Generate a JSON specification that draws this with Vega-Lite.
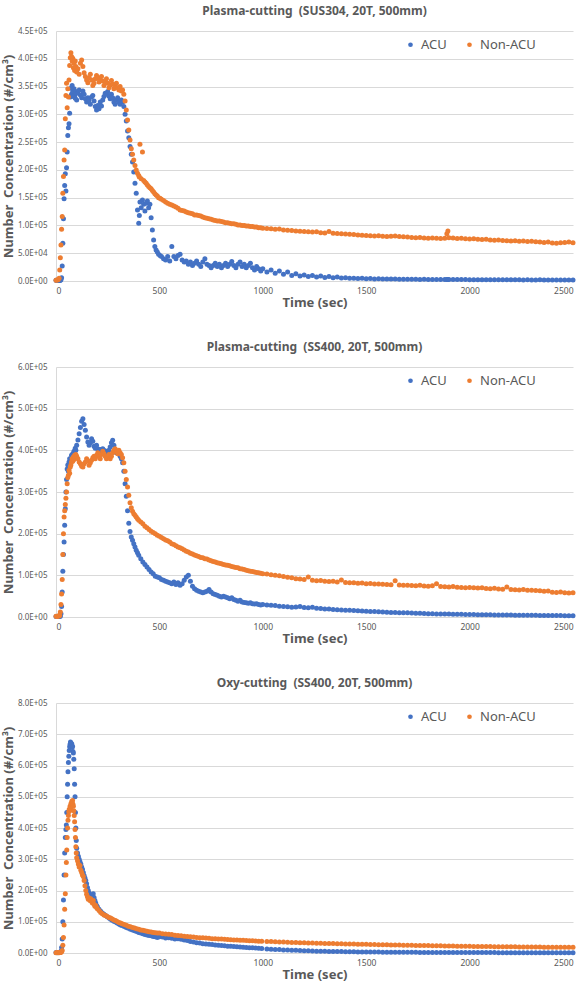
{
"$schema": "https://vega.github.io/schema/vega-lite/v6.json",
"padding": {"left": 2, "top": 5, "right": 4, "bottom": 4},
"background": "white",
"spacing": 31,
"config": {
  "view": {"stroke": null},
  "font": "Noto Sans",
  "title": {"fontSize": 12, "fontWeight": "bold", "color": "#595959", "font": "Noto Sans", "offset": 9},
  "axis": {"labelColor": "#595959", "titleColor": "#595959", "labelFont": "Noto Sans", "titleFont": "Noto Sans", "labelFontSize": 8, "titleFontSize": 13, "titleFontWeight": "bold", "gridColor": "#D9D9D9", "domainColor": "#D9D9D9", "ticks": false},
  "axisY": {"labelPadding": 9, "titlePadding": 2},
  "axisX": {"labelPadding": 5, "titlePadding": 2, "format": "d", "labelFontSize": 8.5},
  "legend": {"labelColor": "#595959", "labelFont": "Noto Sans", "labelFontSize": 13, "symbolType": "circle", "symbolSize": 22, "columnPadding": 16, "padding": 0, "orient": "none", "direction": "horizontal", "legendX": 348, "legendY": 7, "title": null}
},
"resolve": {"scale": {"color": "independent", "y": "independent"}, "legend": {"color": "independent"}},
"vconcat": [
{
  "title": {"text": "Plasma-cutting \u00a0(SUS304, 20T, 500mm)"},
  "width": 517, "height": 250,
  "data": {"name": "p1"},
  "transform": [{"fold": ["a", "n"], "as": ["s", "v"]}],
  "mark": {"type": "circle", "size": 25, "opacity": 1},
  "encoding": {
    "x": {"field": "t", "type": "quantitative", "scale": {"domain": [0, 2500], "nice": false}, "axis": {"values": [0, 500, 1000, 1500, 2000, 2500], "title": "Time (sec)", "grid": false}},
    "y": {"field": "v", "type": "quantitative", "scale": {"domain": [0, 450000], "nice": false}, "axis": {"values": [0, 50000, 100000, 150000, 200000, 250000, 300000, 350000, 400000, 450000], "title": "Number \u00a0Concentration (#/cm³)", "labelExpr": "replace(format(datum.value, '.1e'), 'e+', 'E+0')"}},
    "color": {"field": "s", "type": "nominal", "scale": {"domain": ["a", "n"], "range": ["#4472C4", "#ED7D31"]}, "legend": {"labelExpr": "datum.label == 'a' ? 'ACU' : 'Non-ACU'"}},
    "order": {"field": "s"}
  }
},
{
  "title": {"text": "Plasma-cutting \u00a0(SS400, 20T, 500mm)"},
  "width": 517, "height": 250,
  "data": {"name": "p2"},
  "transform": [{"fold": ["a", "n"], "as": ["s", "v"]}],
  "mark": {"type": "circle", "size": 25, "opacity": 1},
  "encoding": {
    "x": {"field": "t", "type": "quantitative", "scale": {"domain": [0, 2500], "nice": false}, "axis": {"values": [0, 500, 1000, 1500, 2000, 2500], "title": "Time (sec)", "grid": false}},
    "y": {"field": "v", "type": "quantitative", "scale": {"domain": [0, 600000], "nice": false}, "axis": {"values": [0, 100000, 200000, 300000, 400000, 500000, 600000], "title": "Number \u00a0Concentration (#/cm³)", "labelExpr": "replace(format(datum.value, '.1e'), 'e+', 'E+0')"}},
    "color": {"field": "s", "type": "nominal", "scale": {"domain": ["a", "n"], "range": ["#4472C4", "#ED7D31"]}, "legend": {"labelExpr": "datum.label == 'a' ? 'ACU' : 'Non-ACU'"}},
    "order": {"field": "s"}
  }
},
{
  "title": {"text": "Oxy-cutting \u00a0(SS400, 20T, 500mm)"},
  "width": 517, "height": 250,
  "data": {"name": "p3"},
  "transform": [{"fold": ["a", "n"], "as": ["s", "v"]}],
  "mark": {"type": "circle", "size": 25, "opacity": 1},
  "encoding": {
    "x": {"field": "t", "type": "quantitative", "scale": {"domain": [0, 2500], "nice": false}, "axis": {"values": [0, 500, 1000, 1500, 2000, 2500], "title": "Time (sec)", "grid": false}},
    "y": {"field": "v", "type": "quantitative", "scale": {"domain": [0, 800000], "nice": false}, "axis": {"values": [0, 100000, 200000, 300000, 400000, 500000, 600000, 700000, 800000], "title": "Number \u00a0Concentration (#/cm³)", "labelExpr": "replace(format(datum.value, '.1e'), 'e+', 'E+0')"}},
    "color": {"field": "s", "type": "nominal", "scale": {"domain": ["a", "n"], "range": ["#4472C4", "#ED7D31"]}, "legend": {"labelExpr": "datum.label == 'a' ? 'ACU' : 'Non-ACU'"}},
    "order": {"field": "s"}
  }
}
],
"datasets": {
"p1": [
{"t":0,"a":1200,"n":1500},{"t":5,"a":900,"n":1800},{"t":10,"a":1300,"n":2200},{"t":15,"a":1000,"n":5000},{"t":18,"a":1100,"n":20000},{"t":21,"a":1400,"n":42000},{"t":24,"a":2200,"n":65000},{"t":27,"a":6000,"n":93000},{"t":30,"a":27000,"n":116000},{"t":33,"a":68000,"n":158000},{"t":36,"a":112000,"n":188000},{"t":39,"a":148000,"n":218000},{"t":42,"a":172000,"n":236000},{"t":45,"a":193000,"n":292000},{"t":48,"a":162000,"n":334000},{"t":51,"a":204000,"n":356000},{"t":54,"a":232000,"n":312000},{"t":57,"a":262000,"n":346000},{"t":60,"a":276000,"n":331000},{"t":63,"a":283000,"n":362000},{"t":66,"a":302000,"n":388000},{"t":69,"a":331000,"n":402000},{"t":72,"a":347000,"n":411000},{"t":75,"a":336000,"n":404000},{"t":78,"a":352000,"n":396000},{"t":81,"a":341000,"n":401000},{"t":84,"a":332000,"n":384000},{"t":87,"a":346000,"n":392000},{"t":90,"a":334000,"n":379000},{"t":93,"a":329000,"n":396000},{"t":96,"a":341000,"n":386000},{"t":100,"a":326000,"n":376000},
{"t":106,"a":338000,"n":382000},{"t":112,"a":344000,"n":372000},{"t":118,"a":335000,"n":392000},{"t":124,"a":330000,"n":398000},{"t":130,"a":342000,"n":386000},{"t":136,"a":336000,"n":375000},{"t":142,"a":328000,"n":368000},{"t":148,"a":322000,"n":362000},{"t":154,"a":330000,"n":357000},{"t":160,"a":326000,"n":366000},{"t":166,"a":318000,"n":372000},{"t":172,"a":331000,"n":362000},{"t":178,"a":334000,"n":352000},{"t":184,"a":324000,"n":356000},{"t":190,"a":314000,"n":364000},{"t":196,"a":308000,"n":370000},{"t":202,"a":316000,"n":366000},{"t":208,"a":310000,"n":358000},{"t":214,"a":322000,"n":362000},{"t":220,"a":315000,"n":368000},{"t":226,"a":326000,"n":360000},{"t":232,"a":332000,"n":352000},{"t":238,"a":338000,"n":358000},{"t":244,"a":336000,"n":364000},{"t":250,"a":341000,"n":356000},{"t":256,"a":333000,"n":348000},{"t":262,"a":328000,"n":353000},{"t":268,"a":336000,"n":361000},{"t":274,"a":330000,"n":354000},{"t":280,"a":322000,"n":346000},{"t":286,"a":318000,"n":350000},{"t":292,"a":326000,"n":356000},{"t":298,"a":330000,"n":348000},{"t":304,"a":322000,"n":344000},{"t":310,"a":318000,"n":350000},{"t":316,"a":326000,"n":342000},{"t":322,"a":322000,"n":344000},{"t":328,"a":314000,"n":336000},
{"t":334,"a":300000,"n":324000},{"t":340,"a":288000,"n":308000},{"t":346,"a":270000,"n":290000},{"t":352,"a":258000,"n":272000},{"t":358,"a":242000,"n":254000},{"t":364,"a":228000,"n":238000},{"t":370,"a":214000,"n":228000},{"t":376,"a":196000,"n":218000},{"t":382,"a":176000,"n":208000},{"t":388,"a":158000,"n":200000},{"t":394,"a":128000,"n":194000},{"t":400,"a":104000,"n":190000},{"t":403,"a":118000,"n":187000},{"t":406,"a":142000,"n":246000},{"t":412,"a":132000,"n":184000},{"t":418,"a":146000,"n":232000},{"t":424,"a":138000,"n":181000},{"t":430,"a":126000,"n":178000},{"t":436,"a":140000,"n":176000},{"t":442,"a":144000,"n":173000},{"t":448,"a":132000,"n":170000},{"t":454,"a":138000,"n":168000},{"t":460,"a":114000,"n":166000},{"t":466,"a":92000,"n":163000},{"t":472,"a":74000,"n":160000},{"t":478,"a":62000,"n":157000},{"t":484,"a":56000,"n":155000},{"t":490,"a":52000,"n":153000},{"t":496,"a":48000,"n":150000},{"t":503,"a":46000,"n":149000},
{"t":510,"a":44000,"n":147000},{"t":520,"a":40000,"n":145000},{"t":530,"a":38000,"n":142000},{"t":540,"a":44000,"n":140000},{"t":550,"a":36000,"n":138000},{"t":560,"a":62000,"n":137000},{"t":570,"a":44000,"n":135000},{"t":580,"a":40000,"n":133000},{"t":590,"a":46000,"n":131000},{"t":600,"a":48000,"n":128000},{"t":610,"a":38000,"n":127000},{"t":620,"a":34000,"n":126000},{"t":630,"a":36000,"n":124000},{"t":640,"a":30000,"n":123000},{"t":650,"a":34000,"n":122000},{"t":660,"a":28000,"n":121000},{"t":670,"a":32000,"n":119000},{"t":680,"a":36000,"n":119000},{"t":690,"a":30000,"n":118000},{"t":700,"a":26000,"n":117000},{"t":710,"a":34000,"n":115000},{"t":720,"a":40000,"n":114000},{"t":730,"a":30000,"n":113000},{"t":740,"a":28000,"n":112000},{"t":750,"a":24000,"n":111000},{"t":760,"a":28000,"n":110000},{"t":770,"a":32000,"n":109000},{"t":780,"a":26000,"n":108000},{"t":790,"a":30000,"n":108000},{"t":800,"a":24000,"n":107000},{"t":810,"a":28000,"n":106000},{"t":820,"a":32000,"n":105000},{"t":830,"a":26000,"n":105000},{"t":840,"a":30000,"n":104000},{"t":850,"a":35000,"n":103000},{"t":860,"a":28000,"n":103000},{"t":870,"a":24000,"n":102000},{"t":880,"a":30000,"n":101000},{"t":890,"a":34000,"n":101000},{"t":900,"a":26000,"n":100000},{"t":910,"a":30000,"n":100000},{"t":920,"a":24000,"n":99000},{"t":930,"a":28000,"n":99000},{"t":940,"a":32000,"n":98000},{"t":950,"a":24000,"n":98000},{"t":960,"a":20000,"n":97000},{"t":970,"a":26000,"n":97000},{"t":980,"a":22000,"n":96000},{"t":990,"a":18000,"n":96000},{"t":1000,"a":22000,"n":95000},
{"t":1020,"a":16000,"n":94500},{"t":1040,"a":20000,"n":94000},{"t":1060,"a":14000,"n":93000},{"t":1080,"a":18000,"n":93500},{"t":1100,"a":12000,"n":92000},{"t":1120,"a":16000,"n":91500},{"t":1140,"a":10000,"n":91000},{"t":1160,"a":13000,"n":90000},{"t":1180,"a":9000,"n":89500},{"t":1200,"a":11000,"n":89000},{"t":1220,"a":8000,"n":88500},{"t":1240,"a":10000,"n":88000},{"t":1260,"a":7000,"n":88500},{"t":1280,"a":9000,"n":87000},{"t":1300,"a":6500,"n":86500},{"t":1320,"a":8000,"n":89000},{"t":1340,"a":6000,"n":86000},{"t":1360,"a":7000,"n":85500},{"t":1380,"a":5500,"n":85000},{"t":1400,"a":6000,"n":84500},{"t":1420,"a":5000,"n":84000},{"t":1440,"a":5000,"n":83500},{"t":1460,"a":4500,"n":83000},{"t":1480,"a":5000,"n":82500},{"t":1500,"a":4000,"n":82000},{"t":1520,"a":4500,"n":81500},{"t":1540,"a":3800,"n":81000},{"t":1560,"a":4000,"n":81500},{"t":1580,"a":3500,"n":80500},{"t":1600,"a":3600,"n":80000},{"t":1620,"a":3400,"n":80500},{"t":1640,"a":3500,"n":81000},{"t":1660,"a":3200,"n":80000},{"t":1680,"a":3300,"n":79500},{"t":1700,"a":3000,"n":79000},{"t":1720,"a":3200,"n":78500},{"t":1740,"a":3000,"n":78000},{"t":1760,"a":2900,"n":78500},{"t":1780,"a":3000,"n":77500},{"t":1800,"a":2800,"n":77000},{"t":1820,"a":2900,"n":77500},{"t":1840,"a":2700,"n":77000},{"t":1860,"a":2800,"n":76500},{"t":1880,"a":2600,"n":77000},{"t":1890,"a":2650,"n":85000},{"t":1895,"a":2600,"n":90000},{"t":1900,"a":2700,"n":78000},{"t":1920,"a":2600,"n":77500},{"t":1940,"a":2500,"n":76500},{"t":1960,"a":2600,"n":77000},{"t":1980,"a":2500,"n":76000},{"t":2000,"a":2400,"n":75500},{"t":2020,"a":2400,"n":76000},{"t":2040,"a":2300,"n":75000},{"t":2060,"a":2400,"n":74500},{"t":2080,"a":2300,"n":75000},{"t":2100,"a":2200,"n":74000},{"t":2120,"a":2300,"n":73500},{"t":2140,"a":2200,"n":74000},{"t":2160,"a":2200,"n":73000},{"t":2180,"a":2100,"n":72500},{"t":2200,"a":2200,"n":72000},{"t":2220,"a":2100,"n":72500},{"t":2240,"a":2100,"n":71500},{"t":2260,"a":2000,"n":72000},{"t":2280,"a":2100,"n":71000},{"t":2300,"a":2000,"n":71500},{"t":2320,"a":2000,"n":70500},{"t":2340,"a":2100,"n":70000},{"t":2360,"a":2000,"n":69500},{"t":2380,"a":1900,"n":70000},{"t":2400,"a":2000,"n":68500},{"t":2420,"a":1900,"n":68000},{"t":2440,"a":2000,"n":69000},{"t":2460,"a":1900,"n":69500},{"t":2480,"a":2000,"n":70000},{"t":2500,"a":1900,"n":69000}
],
"p2": [
{"t":0,"a":1500,"n":2000},{"t":5,"a":1200,"n":1500},{"t":10,"a":1800,"n":2500},{"t":15,"a":1400,"n":2200},{"t":18,"a":1600,"n":4000},{"t":21,"a":2000,"n":12000},{"t":24,"a":8000,"n":30000},{"t":27,"a":25000,"n":55000},{"t":30,"a":60000,"n":90000},{"t":33,"a":110000,"n":150000},{"t":36,"a":150000,"n":200000},{"t":39,"a":180000,"n":240000},{"t":42,"a":220000,"n":255000},{"t":45,"a":260000,"n":270000},{"t":48,"a":300000,"n":285000},{"t":51,"a":330000,"n":300000},{"t":54,"a":355000,"n":320000},{"t":57,"a":365000,"n":335000},{"t":60,"a":350000,"n":340000},{"t":63,"a":372000,"n":352000},{"t":66,"a":380000,"n":345000},{"t":69,"a":368000,"n":360000},{"t":72,"a":378000,"n":365000},{"t":75,"a":388000,"n":372000},{"t":78,"a":382000,"n":380000},{"t":81,"a":392000,"n":374000},{"t":84,"a":386000,"n":384000},{"t":87,"a":398000,"n":378000},{"t":90,"a":392000,"n":388000},{"t":93,"a":405000,"n":382000},{"t":96,"a":400000,"n":390000},{"t":100,"a":412000,"n":386000},
{"t":106,"a":425000,"n":380000},{"t":112,"a":440000,"n":372000},{"t":118,"a":455000,"n":368000},{"t":124,"a":470000,"n":362000},{"t":130,"a":476000,"n":360000},{"t":136,"a":462000,"n":368000},{"t":142,"a":448000,"n":372000},{"t":148,"a":432000,"n":380000},{"t":154,"a":420000,"n":375000},{"t":160,"a":412000,"n":364000},{"t":166,"a":418000,"n":370000},{"t":172,"a":428000,"n":376000},{"t":178,"a":422000,"n":382000},{"t":184,"a":410000,"n":386000},{"t":190,"a":405000,"n":380000},{"t":196,"a":412000,"n":388000},{"t":202,"a":404000,"n":394000},{"t":208,"a":398000,"n":385000},{"t":214,"a":402000,"n":380000},{"t":220,"a":396000,"n":390000},{"t":226,"a":404000,"n":398000},{"t":232,"a":400000,"n":392000},{"t":238,"a":394000,"n":386000},{"t":244,"a":398000,"n":380000},{"t":250,"a":392000,"n":384000},{"t":256,"a":400000,"n":390000},{"t":262,"a":408000,"n":380000},{"t":268,"a":418000,"n":386000},{"t":274,"a":424000,"n":394000},{"t":280,"a":412000,"n":400000},{"t":286,"a":400000,"n":404000},{"t":292,"a":394000,"n":398000},{"t":298,"a":398000,"n":392000},{"t":304,"a":392000,"n":400000},{"t":310,"a":386000,"n":394000},{"t":316,"a":380000,"n":390000},{"t":322,"a":370000,"n":382000},{"t":328,"a":350000,"n":370000},
{"t":334,"a":320000,"n":350000},{"t":340,"a":290000,"n":330000},{"t":346,"a":255000,"n":312000},{"t":352,"a":225000,"n":292000},{"t":358,"a":205000,"n":274000},{"t":364,"a":192000,"n":262000},{"t":370,"a":184000,"n":254000},{"t":376,"a":176000,"n":248000},{"t":382,"a":168000,"n":244000},{"t":388,"a":160000,"n":240000},{"t":394,"a":154000,"n":236000},{"t":400,"a":148000,"n":232000},{"t":410,"a":140000,"n":228000},{"t":420,"a":132000,"n":224000},{"t":430,"a":126000,"n":218000},{"t":440,"a":120000,"n":214000},{"t":450,"a":114000,"n":210000},{"t":460,"a":108000,"n":206000},{"t":470,"a":104000,"n":203000},{"t":480,"a":98000,"n":200000},{"t":490,"a":96000,"n":196000},
{"t":500,"a":94000,"n":194000},{"t":510,"a":90000,"n":191000},{"t":520,"a":88000,"n":188000},{"t":530,"a":86000,"n":185000},{"t":540,"a":84000,"n":183000},{"t":550,"a":82000,"n":180000},{"t":560,"a":80000,"n":176000},{"t":570,"a":84000,"n":174000},{"t":580,"a":78000,"n":171000},{"t":590,"a":82000,"n":168000},{"t":600,"a":76000,"n":166000},{"t":610,"a":80000,"n":164000},{"t":620,"a":88000,"n":161000},{"t":630,"a":96000,"n":158000},{"t":640,"a":100000,"n":156000},{"t":650,"a":86000,"n":153000},{"t":660,"a":74000,"n":151000},{"t":670,"a":68000,"n":149000},{"t":680,"a":64000,"n":147000},{"t":690,"a":62000,"n":145000},{"t":700,"a":60000,"n":143000},{"t":710,"a":58000,"n":142000},{"t":720,"a":60000,"n":140000},{"t":730,"a":62000,"n":139000},{"t":740,"a":66000,"n":137000},{"t":750,"a":60000,"n":135000},{"t":760,"a":56000,"n":133000},{"t":770,"a":54000,"n":132000},{"t":780,"a":52000,"n":130000},{"t":790,"a":50000,"n":129000},{"t":800,"a":48000,"n":128000},{"t":810,"a":50000,"n":126000},{"t":820,"a":48000,"n":125000},{"t":830,"a":46000,"n":124000},{"t":840,"a":44000,"n":123000},{"t":850,"a":46000,"n":121000},{"t":860,"a":42000,"n":120000},{"t":870,"a":40000,"n":119000},{"t":880,"a":38000,"n":118000},{"t":890,"a":40000,"n":116000},{"t":900,"a":36000,"n":115000},{"t":910,"a":35000,"n":114000},{"t":920,"a":34000,"n":112000},{"t":930,"a":33000,"n":111000},{"t":940,"a":34000,"n":110000},{"t":950,"a":32000,"n":109000},{"t":960,"a":31000,"n":108000},{"t":970,"a":32000,"n":107000},{"t":980,"a":30000,"n":106000},{"t":990,"a":29000,"n":105000},{"t":1000,"a":30000,"n":104000},
{"t":1020,"a":29000,"n":103000},{"t":1040,"a":28000,"n":101500},{"t":1060,"a":27500,"n":100000},{"t":1080,"a":26000,"n":99000},{"t":1100,"a":25500,"n":97000},{"t":1120,"a":24500,"n":95500},{"t":1140,"a":23500,"n":94000},{"t":1160,"a":24000,"n":92000},{"t":1180,"a":25500,"n":91000},{"t":1200,"a":23000,"n":90000},{"t":1220,"a":22000,"n":96000},{"t":1240,"a":23500,"n":88000},{"t":1260,"a":21000,"n":87000},{"t":1280,"a":20500,"n":87500},{"t":1300,"a":19500,"n":86000},{"t":1320,"a":19000,"n":85000},{"t":1340,"a":18000,"n":86000},{"t":1360,"a":17500,"n":84000},{"t":1380,"a":17000,"n":89000},{"t":1400,"a":16500,"n":83000},{"t":1420,"a":16000,"n":82500},{"t":1440,"a":15500,"n":82000},{"t":1460,"a":15000,"n":81000},{"t":1480,"a":14500,"n":81500},{"t":1500,"a":14000,"n":80000},{"t":1520,"a":13500,"n":80500},{"t":1540,"a":13000,"n":79000},{"t":1560,"a":12500,"n":79500},{"t":1580,"a":12000,"n":78500},{"t":1600,"a":11500,"n":78000},{"t":1620,"a":11000,"n":77500},{"t":1640,"a":11000,"n":87000},{"t":1660,"a":10500,"n":77000},{"t":1680,"a":10000,"n":76000},{"t":1700,"a":10000,"n":76500},{"t":1720,"a":9500,"n":75500},{"t":1740,"a":9000,"n":75000},{"t":1760,"a":9000,"n":76000},{"t":1780,"a":8500,"n":74500},{"t":1800,"a":8000,"n":74000},{"t":1820,"a":8000,"n":75000},{"t":1840,"a":7500,"n":80000},{"t":1860,"a":7500,"n":73000},{"t":1880,"a":7000,"n":72500},{"t":1900,"a":7000,"n":72000},{"t":1920,"a":6800,"n":73000},{"t":1940,"a":6600,"n":71500},{"t":1960,"a":6400,"n":71000},{"t":1980,"a":6200,"n":70500},{"t":2000,"a":6000,"n":71000},{"t":2020,"a":5800,"n":70000},{"t":2040,"a":5600,"n":69500},{"t":2060,"a":5500,"n":70000},{"t":2080,"a":5400,"n":68500},{"t":2100,"a":5200,"n":68000},{"t":2120,"a":5000,"n":69000},{"t":2140,"a":4900,"n":67000},{"t":2160,"a":4800,"n":66500},{"t":2180,"a":4700,"n":72000},{"t":2200,"a":4600,"n":66000},{"t":2220,"a":4500,"n":65500},{"t":2240,"a":4400,"n":65000},{"t":2260,"a":4300,"n":66000},{"t":2280,"a":4200,"n":64000},{"t":2300,"a":4100,"n":64500},{"t":2320,"a":4000,"n":63500},{"t":2340,"a":3900,"n":63000},{"t":2360,"a":3800,"n":62000},{"t":2380,"a":3700,"n":62500},{"t":2400,"a":3600,"n":59500},{"t":2420,"a":3500,"n":59000},{"t":2440,"a":3400,"n":60000},{"t":2460,"a":3300,"n":58500},{"t":2480,"a":3200,"n":57500},{"t":2500,"a":3100,"n":58000}
],
"p3": [
{"t":0,"a":1500,"n":1000},{"t":5,"a":1200,"n":1300},{"t":10,"a":1800,"n":900},{"t":15,"a":1500,"n":1200},{"t":18,"a":2000,"n":1500},{"t":21,"a":3000,"n":1800},{"t":24,"a":6000,"n":2500},{"t":27,"a":18000,"n":4000},{"t":30,"a":45000,"n":8000},{"t":33,"a":100000,"n":25000},{"t":36,"a":170000,"n":50000},{"t":39,"a":250000,"n":90000},{"t":42,"a":320000,"n":140000},{"t":45,"a":370000,"n":190000},{"t":48,"a":395000,"n":250000},{"t":50,"a":410000,"n":290000},{"t":52,"a":450000,"n":330000},{"t":54,"a":500000,"n":370000},{"t":56,"a":540000,"n":400000},{"t":58,"a":580000,"n":425000},{"t":60,"a":610000,"n":440000},{"t":62,"a":630000,"n":452000},{"t":64,"a":648000,"n":460000},{"t":66,"a":660000,"n":455000},{"t":68,"a":668000,"n":470000},{"t":70,"a":675000,"n":462000},{"t":72,"a":672000,"n":478000},{"t":74,"a":665000,"n":470000},{"t":76,"a":670000,"n":485000},{"t":78,"a":658000,"n":480000},{"t":80,"a":662000,"n":488000},{"t":82,"a":645000,"n":476000},{"t":84,"a":640000,"n":470000},{"t":86,"a":620000,"n":455000},{"t":88,"a":590000,"n":440000},{"t":90,"a":540000,"n":420000},{"t":92,"a":500000,"n":395000},{"t":94,"a":450000,"n":370000},{"t":96,"a":400000,"n":340000},{"t":98,"a":360000,"n":320000},{"t":100,"a":335000,"n":305000},
{"t":104,"a":320000,"n":295000},{"t":108,"a":310000,"n":285000},{"t":112,"a":300000,"n":275000},{"t":116,"a":292000,"n":280000},{"t":120,"a":285000,"n":265000},{"t":124,"a":275000,"n":258000},{"t":128,"a":268000,"n":250000},{"t":132,"a":258000,"n":245000},{"t":136,"a":248000,"n":232000},{"t":140,"a":240000,"n":215000},{"t":144,"a":232000,"n":200000},{"t":148,"a":222000,"n":188000},{"t":152,"a":210000,"n":180000},{"t":156,"a":200000,"n":172000},{"t":160,"a":192000,"n":176000},{"t":164,"a":186000,"n":168000},{"t":168,"a":180000,"n":174000},{"t":172,"a":184000,"n":165000},{"t":176,"a":176000,"n":160000},{"t":180,"a":190000,"n":168000},{"t":184,"a":178000,"n":156000},{"t":188,"a":168000,"n":150000},{"t":192,"a":160000,"n":152000},{"t":196,"a":152000,"n":146000},{"t":200,"a":148000,"n":142000},
{"t":208,"a":140000,"n":136000},{"t":216,"a":134000,"n":130000},{"t":224,"a":128000,"n":126000},{"t":232,"a":124000,"n":122000},{"t":240,"a":120000,"n":120000},{"t":248,"a":116000,"n":117000},{"t":256,"a":112000,"n":114000},{"t":264,"a":108000,"n":112000},{"t":272,"a":105000,"n":109000},{"t":280,"a":102000,"n":106000},{"t":288,"a":99000,"n":104000},{"t":296,"a":96000,"n":101000},{"t":304,"a":93000,"n":98000},{"t":312,"a":90000,"n":96000},{"t":320,"a":88000,"n":94000},{"t":330,"a":85000,"n":91000},{"t":340,"a":82000,"n":89000},{"t":350,"a":79000,"n":86000},{"t":360,"a":76000,"n":84000},{"t":370,"a":74000,"n":82000},{"t":380,"a":71000,"n":80000},{"t":390,"a":69000,"n":78000},{"t":400,"a":66000,"n":76000},{"t":410,"a":64000,"n":74000},{"t":420,"a":62000,"n":73000},{"t":430,"a":59000,"n":71000},{"t":440,"a":58000,"n":70000},{"t":450,"a":56000,"n":68000},{"t":460,"a":55000,"n":67000},{"t":470,"a":53000,"n":66000},{"t":480,"a":52000,"n":65000},{"t":490,"a":50000,"n":64000},{"t":500,"a":52000,"n":64000},
{"t":515,"a":51000,"n":62000},{"t":530,"a":48000,"n":61000},{"t":545,"a":49000,"n":60000},{"t":560,"a":47000,"n":59000},{"t":575,"a":45000,"n":57000},{"t":590,"a":46000,"n":56000},{"t":605,"a":44000,"n":55000},{"t":620,"a":42000,"n":54000},{"t":635,"a":40000,"n":53000},{"t":650,"a":37000,"n":52000},{"t":665,"a":35000,"n":51000},{"t":680,"a":33000,"n":50000},{"t":695,"a":32000,"n":49000},{"t":710,"a":30000,"n":48500},{"t":725,"a":29000,"n":48000},{"t":740,"a":28000,"n":47000},{"t":755,"a":27000,"n":46000},{"t":770,"a":26000,"n":45500},{"t":785,"a":25000,"n":45000},{"t":800,"a":24000,"n":44500},{"t":815,"a":23000,"n":44000},{"t":830,"a":22000,"n":43000},{"t":845,"a":21500,"n":42500},{"t":860,"a":21000,"n":42000},{"t":875,"a":20000,"n":41500},{"t":890,"a":19000,"n":41000},{"t":905,"a":18500,"n":40500},{"t":920,"a":18000,"n":40000},{"t":935,"a":17000,"n":39500},{"t":950,"a":16500,"n":39000},{"t":965,"a":16000,"n":38500},{"t":980,"a":15000,"n":38000},{"t":995,"a":14500,"n":37500},
{"t":1020,"a":13000,"n":37000},{"t":1040,"a":12000,"n":36500},{"t":1060,"a":11500,"n":36000},{"t":1080,"a":11000,"n":35500},{"t":1100,"a":10000,"n":35000},{"t":1120,"a":9500,"n":34500},{"t":1140,"a":9000,"n":34000},{"t":1160,"a":8500,"n":33500},{"t":1180,"a":8000,"n":33000},{"t":1200,"a":7500,"n":32500},{"t":1220,"a":7000,"n":32000},{"t":1240,"a":6500,"n":31700},{"t":1260,"a":6000,"n":31400},{"t":1280,"a":5800,"n":31000},{"t":1300,"a":5500,"n":30700},{"t":1320,"a":5200,"n":30400},{"t":1340,"a":5000,"n":30100},{"t":1360,"a":4700,"n":29800},{"t":1380,"a":4500,"n":29500},{"t":1400,"a":4200,"n":29200},{"t":1420,"a":4000,"n":28900},{"t":1440,"a":3800,"n":28600},{"t":1460,"a":3600,"n":28300},{"t":1480,"a":3400,"n":28000},{"t":1500,"a":3200,"n":27700},{"t":1520,"a":3100,"n":27400},{"t":1540,"a":3000,"n":27100},{"t":1560,"a":2900,"n":26800},{"t":1580,"a":2800,"n":26600},{"t":1600,"a":2700,"n":26300},{"t":1620,"a":2600,"n":26000},{"t":1640,"a":2500,"n":25800},{"t":1660,"a":2400,"n":25500},{"t":1680,"a":2300,"n":25200},{"t":1700,"a":2200,"n":25000},{"t":1720,"a":2200,"n":24700},{"t":1740,"a":2100,"n":24400},{"t":1760,"a":2000,"n":24200},{"t":1780,"a":2000,"n":23900},{"t":1800,"a":1900,"n":23700},{"t":1820,"a":1900,"n":23400},{"t":1840,"a":1800,"n":23100},{"t":1860,"a":1800,"n":22900},{"t":1880,"a":1700,"n":22600},{"t":1900,"a":1700,"n":22400},{"t":1920,"a":1600,"n":22200},{"t":1940,"a":1600,"n":22000},{"t":1960,"a":1500,"n":21800},{"t":1980,"a":1500,"n":21600},{"t":2000,"a":1500,"n":21400},{"t":2020,"a":1400,"n":21200},{"t":2040,"a":1400,"n":21000},{"t":2060,"a":1400,"n":20900},{"t":2080,"a":1300,"n":20700},{"t":2100,"a":1300,"n":20600},{"t":2120,"a":1300,"n":20400},{"t":2140,"a":1200,"n":20300},{"t":2160,"a":1200,"n":20100},{"t":2180,"a":1200,"n":20000},{"t":2200,"a":1200,"n":19900},{"t":2220,"a":1100,"n":19700},{"t":2240,"a":1100,"n":19600},{"t":2260,"a":1100,"n":19500},{"t":2280,"a":1100,"n":19300},{"t":2300,"a":1100,"n":19200},{"t":2320,"a":1100,"n":19100},{"t":2340,"a":1000,"n":19000},{"t":2360,"a":1000,"n":18800},{"t":2380,"a":1000,"n":18700},{"t":2400,"a":1000,"n":18600},{"t":2420,"a":1000,"n":18500},{"t":2440,"a":1000,"n":18400},{"t":2460,"a":1000,"n":18300},{"t":2480,"a":1000,"n":18200},{"t":2500,"a":1000,"n":18100}
]
}
}
